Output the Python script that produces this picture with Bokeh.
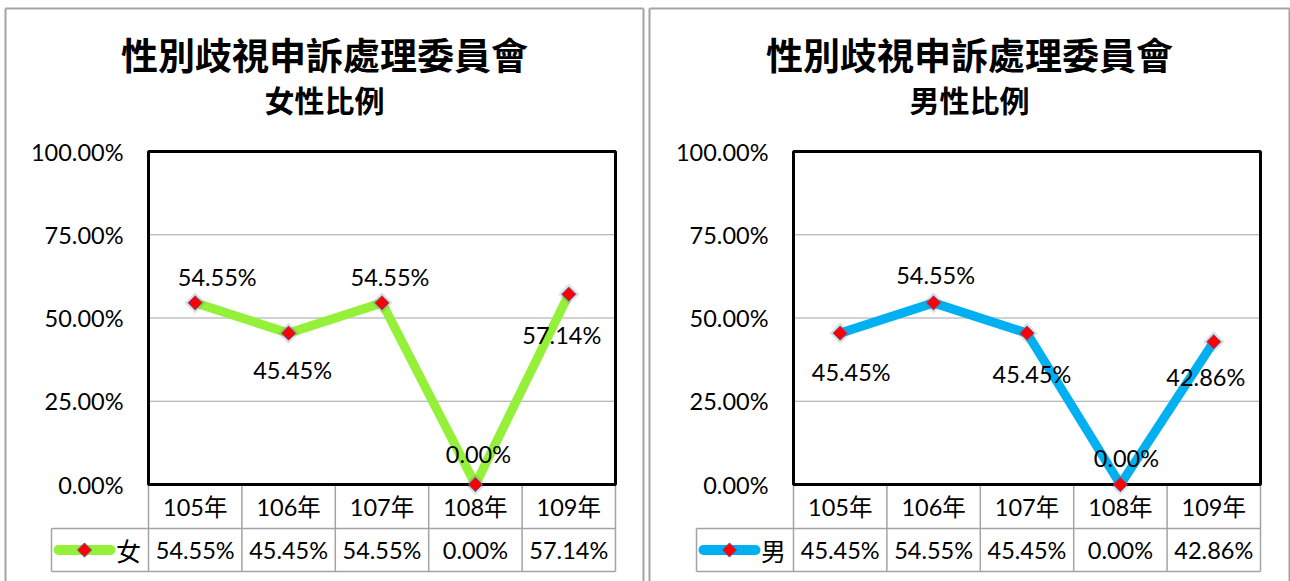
import math
from bokeh.plotting import figure
from bokeh.layouts import row
from bokeh.models import Range1d
from bokeh.core.properties import value
from bokeh.embed import file_html
from bokeh.resources import INLINE

# ---------------- data ----------------
title_main = "性別歧視申訴處理委員會"
subtitles = ["女性比例", "男性比例"]
series_names = ["女", "男"]
categories = ["105年", "106年", "107年", "108年", "109年"]
female = [0.5455, 0.4545, 0.5455, 0.0, 0.5714]
male = [0.4545, 0.5455, 0.4545, 0.0, 0.4286]
y_ticks = [0.0, 0.25, 0.5, 0.75, 1.0]

# ---------------- layout (px) ----------------
FIG_W, FIG_H = 645, 581
CAT_W = 93.4      # px per category
Y0 = 484          # px from figure top to the 0% line
UNIT_H = 333      # px for 100%
PLOT_L = 148

NUM_FONT = "Lato"
CJK_FONT = "Noto Sans CJK TC"
MIX_FONT = "Lato, Noto Sans CJK TC"
GRAY = "#a3a3a3"


def make_panel(values, subtitle, name, color, lab_dx, lab_dy, border_l, border_r):
    def X(px):
        return (px - PLOT_L) / CAT_W

    def Y(py):
        return (Y0 - py) / UNIT_H

    p = figure(width=FIG_W, height=FIG_H,
               x_range=Range1d(X(0), X(FIG_W)), y_range=Range1d(Y(FIG_H), Y(0)),
               x_axis_type=None, y_axis_type=None, toolbar_location=None,
               output_backend="svg", min_border=0, outline_line_color=None,
               background_fill_color="white", border_fill_color="white")
    p.title.visible = False

    n = len(categories)
    xc = [i + 0.5 for i in range(n)]

    # panel border (left, top, right)
    p.segment(x0=[X(border_l), X(border_l), X(border_r)],
              y0=[Y(FIG_H + 5), Y(8), Y(8)],
              x1=[X(border_l), X(border_r), X(border_r)],
              y1=[Y(8), Y(8), Y(FIG_H + 5)],
              line_color=GRAY, line_width=2)

    # titles
    cx = X((border_l + border_r) / 2)
    p.text(x=[cx], y=[Y(53)], text=[title_main],
           text_font=value(CJK_FONT), text_font_size="37px", text_font_style="bold",
           text_align="center", text_baseline="middle", text_color="black")
    p.text(x=[cx], y=[Y(98)], text=[subtitle],
           text_font=value(CJK_FONT), text_font_size="30px", text_font_style="bold",
           text_align="center", text_baseline="middle", text_color="black")

    # gridlines
    inner = [t for t in y_ticks if 0 < t < 1]
    p.segment(x0=[0] * len(inner), x1=[n] * len(inner), y0=inner, y1=inner,
              line_color=GRAY, line_width=1.2)

    # y tick labels
    p.text(x=[X(PLOT_L - 25)] * len(y_ticks), y=y_ticks,
           text=[f"{t:.2%}" for t in y_ticks],
           text_font=value(NUM_FONT), text_font_size="23.5px",
           text_align="right", text_baseline="middle", text_color="black")

    # data table
    r1 = Y(Y0 + 44)
    r2 = Y(Y0 + 87)
    leg_l = X(PLOT_L - 97)
    p.segment(x0=[leg_l, leg_l], x1=[n, n], y0=[r1, r2], y1=[r1, r2],
              line_color=GRAY, line_width=1.5)
    p.segment(x0=list(range(n + 1)) + [leg_l], x1=list(range(n + 1)) + [leg_l],
              y0=[0] * (n + 1) + [r1], y1=[r2] * (n + 1) + [r2],
              line_color=GRAY, line_width=1.5)
    p.text(x=xc, y=[(0 + r1) / 2] * n, text=categories,
           text_font=value(MIX_FONT), text_font_size="23.5px",
           text_align="center", text_baseline="middle", text_color="black")
    p.text(x=xc, y=[(r1 + r2) / 2] * n, text=[f"{v:.2%}" for v in values],
           text_font=value(NUM_FONT), text_font_size="23.5px",
           text_align="center", text_baseline="middle", text_color="black")

    # legend key
    ly = (r1 + r2) / 2
    p.line(x=[X(PLOT_L - 90), X(PLOT_L - 38)], y=[ly, ly],
           line_color=color, line_width=10, line_cap="round")
    p.scatter(x=[X(PLOT_L - 64)], y=[ly], marker="square", angle=math.pi / 4,
              size=10, fill_color="#ff0000", line_color="#5a5aa8", line_width=1)
    p.text(x=[X(PLOT_L - 20)], y=[ly], text=[name],
           text_font=value(CJK_FONT), text_font_size="25px",
           text_align="center", text_baseline="middle", text_color="black")

    # series line + markers
    p.line(x=xc, y=values, line_color=color, line_width=9, line_join="round")
    p.scatter(x=xc, y=values, marker="square", angle=math.pi / 4, size=15,
              fill_color="#808080", fill_alpha=0.25, line_color=None)
    p.scatter(x=xc, y=values, marker="square", angle=math.pi / 4, size=10,
              fill_color="#ff0000", line_color="#5a5aa8", line_width=1)

    # plot frame
    p.quad(left=[0], right=[n], bottom=[0], top=[1], fill_color=None,
           line_color="black", line_width=3)
    # redraw 0% marker over the frame
    zx = [x for x, v in zip(xc, values) if v == 0]
    zy = [0.0] * len(zx)
    p.scatter(x=zx, y=zy, marker="square", angle=math.pi / 4, size=10,
              fill_color="#ff0000", line_color="#5a5aa8", line_width=1)

    # data labels
    p.text(x=[x + dx / CAT_W for x, dx in zip(xc, lab_dx)],
           y=[v - dy / UNIT_H for v, dy in zip(values, lab_dy)],
           text=[f"{v:.2%}" for v in values],
           text_font=value(NUM_FONT), text_font_size="23.5px",
           text_align="center", text_baseline="middle", text_color="black")
    return p


f_dx = [22, 4, 8, 3, -7]
f_dy = [-26, 37, -26, -31, 41]
m_dx = [11, 2, 5, 6, -8]
m_dy = [39, -28, 41, -27, 35]

p1 = make_panel(female, subtitles[0], series_names[0], "#95f03a", f_dx, f_dy, 5, 643)
p2 = make_panel(male, subtitles[1], series_names[1], "#00b0f0", m_dx, m_dy, 4, 644)

layout = row(p1, p2)
open("out.html", "w").write(file_html(layout, INLINE))
